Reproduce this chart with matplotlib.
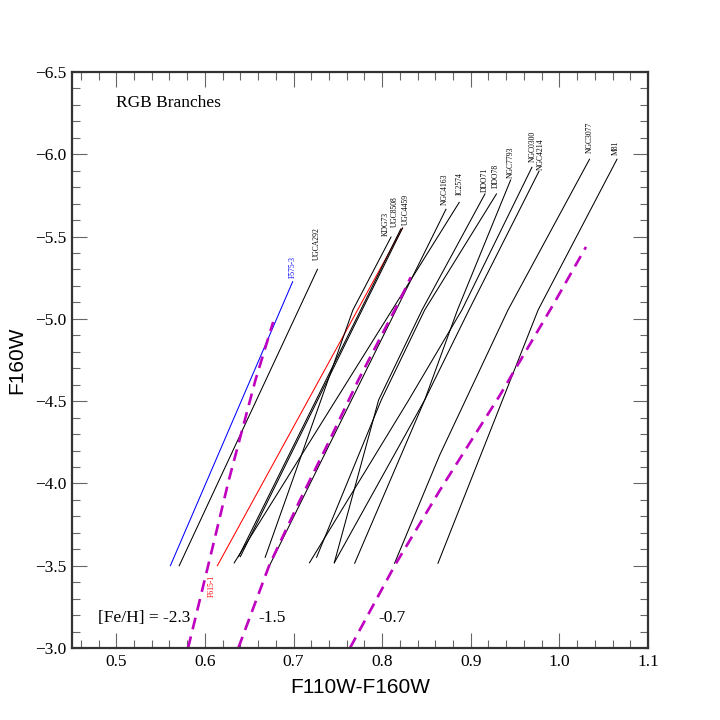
import matplotlib
matplotlib.use('Agg')
import matplotlib.pyplot as plt
from matplotlib.ticker import MultipleLocator

# RGB fiducials: F110W-F160W colour and F160W magnitude
names = ['F575-3', 'UGCA292', 'F615-1', 'KDG73', 'UGC8508', 'UGC4459',
         'IC2574', 'NGC4163', 'DDO71', 'DDO78', 'NGC0300', 'NGC4214',
         'NGC7793', 'NGC3077', 'M81']
line_colors = ['blue', 'black', 'red'] + ['black'] * 12

rgb_color = [
    [0.561, 0.699],
    [0.571, 0.727],
    [0.614, 0.823],
    [0.668, 0.767, 0.810],
    [0.638, 0.821],
    [0.640, 0.823],
    [0.633, 0.887],
    [0.673, 0.872],
    [0.746, 0.796, 0.845, 0.916],
    [0.726, 0.799, 0.848, 0.929],
    [0.718, 0.830, 0.890, 0.969],
    [0.746, 0.848, 0.898, 0.977],
    [0.769, 0.848, 0.885, 0.945],
    [0.814, 0.865, 0.942, 1.034],
    [0.863, 0.976, 1.065],
]
rgb_mag = [
    [-3.50, -5.226],
    [-3.50, -5.301],
    [-3.50, -5.552],
    [-3.551, -5.054, -5.497],
    [-3.555, -5.546],
    [-3.555, -5.552],
    [-3.517, -5.708],
    [-3.502, -5.666],
    [-3.518, -4.507, -5.054, -5.759],
    [-3.551, -4.507, -5.054, -5.759],
    [-3.518, -4.507, -5.054, -5.921],
    [-3.518, -4.507, -5.054, -5.897],
    [-3.515, -4.507, -5.054, -5.844],
    [-3.515, -4.173, -5.054, -5.970],
    [-3.515, -5.054, -5.970],
]

# where the small rotated names sit
label_x = [0.699, 0.7265, 0.6076, 0.8043, 0.8145, 0.8266, 0.8871, 0.8709,
           0.9153, 0.9285, 0.9699, 0.9789, 0.9451, 1.0338, 1.0639]
label_y = [-5.250, -5.358, -3.444, -5.503, -5.560, -5.570, -5.753, -5.692,
           -5.773, -5.793, -5.955, -5.905, -5.854, -6.006, -5.996]

# isochrones for three metallicities
feh = ['-2.3', '-1.5', '-0.7']
iso_color = [
    [0.581, 0.606, 0.627, 0.657, 0.677],
    [0.6377, 0.6727, 0.7073, 0.7392, 0.7731, 0.8201, 0.8322],
    [0.7637, 0.8145, 0.8653, 0.9330, 0.9928, 1.0300],
]
iso_mag = [
    [-3.0, -3.553, -4.021, -4.628, -4.981],
    [-3.0, -3.504, -3.899, -4.246, -4.628, -5.115, -5.253],
    [-3.0, -3.504, -3.960, -4.537, -5.084, -5.437],
]
feh_text_x = [0.479, 0.660, 0.796]

plt.rcParams['font.family'] = 'Liberation Serif'
plt.rcParams['font.size'] = 12.5

fig = plt.figure(figsize=(7.2, 7.2), dpi=100)
ax = fig.add_axes([0.1, 0.1, 0.8, 0.8])

for name, xs, ys, c in zip(names, rgb_color, rgb_mag, line_colors):
    ax.plot(xs, ys, color=c, lw=0.75)

for name, lx, ly, c in zip(names, label_x, label_y, line_colors):
    va = 'top' if name == 'F615-1' else 'bottom'
    ax.text(lx, ly, name, rotation=90, fontsize=5.5, color=c,
            ha='center', va=va)

for xs, ys in zip(iso_color, iso_mag):
    ax.plot(xs, ys, color='#c000c0', lw=1.9, ls=(0, (4.5, 2.8)))

for i, (t, tx) in enumerate(zip(feh, feh_text_x)):
    s = '[Fe/H] = ' + t if i == 0 else t
    ax.text(tx, -3.18, s, ha='left', va='center', fontsize=12.5)

ax.text(0.50, -6.312, 'RGB Branches', ha='left', va='center', fontsize=12.5)

ax.set_xlim(0.45, 1.1)
ax.set_ylim(-3.0, -6.5)
ax.xaxis.set_major_locator(MultipleLocator(0.1))
ax.xaxis.set_minor_locator(MultipleLocator(0.02))
ax.yaxis.set_major_locator(MultipleLocator(0.5))
ax.yaxis.set_minor_locator(MultipleLocator(0.1))

ax.tick_params(which='both', direction='in', top=True, right=True,
               color='#666666', width=0.8, pad=4)
ax.tick_params(which='major', length=10.5)
ax.tick_params(which='minor', length=5.5)

for sp in ax.spines.values():
    sp.set_linewidth(1.6)
    sp.set_color('#333333')

ax.set_xlabel('F110W-F160W', fontfamily='Liberation Sans', fontsize=15,
              labelpad=6)
ax.set_ylabel('F160W', fontfamily='Liberation Sans', fontsize=15,
              labelpad=6)

plt.savefig('out.png', dpi=100)
